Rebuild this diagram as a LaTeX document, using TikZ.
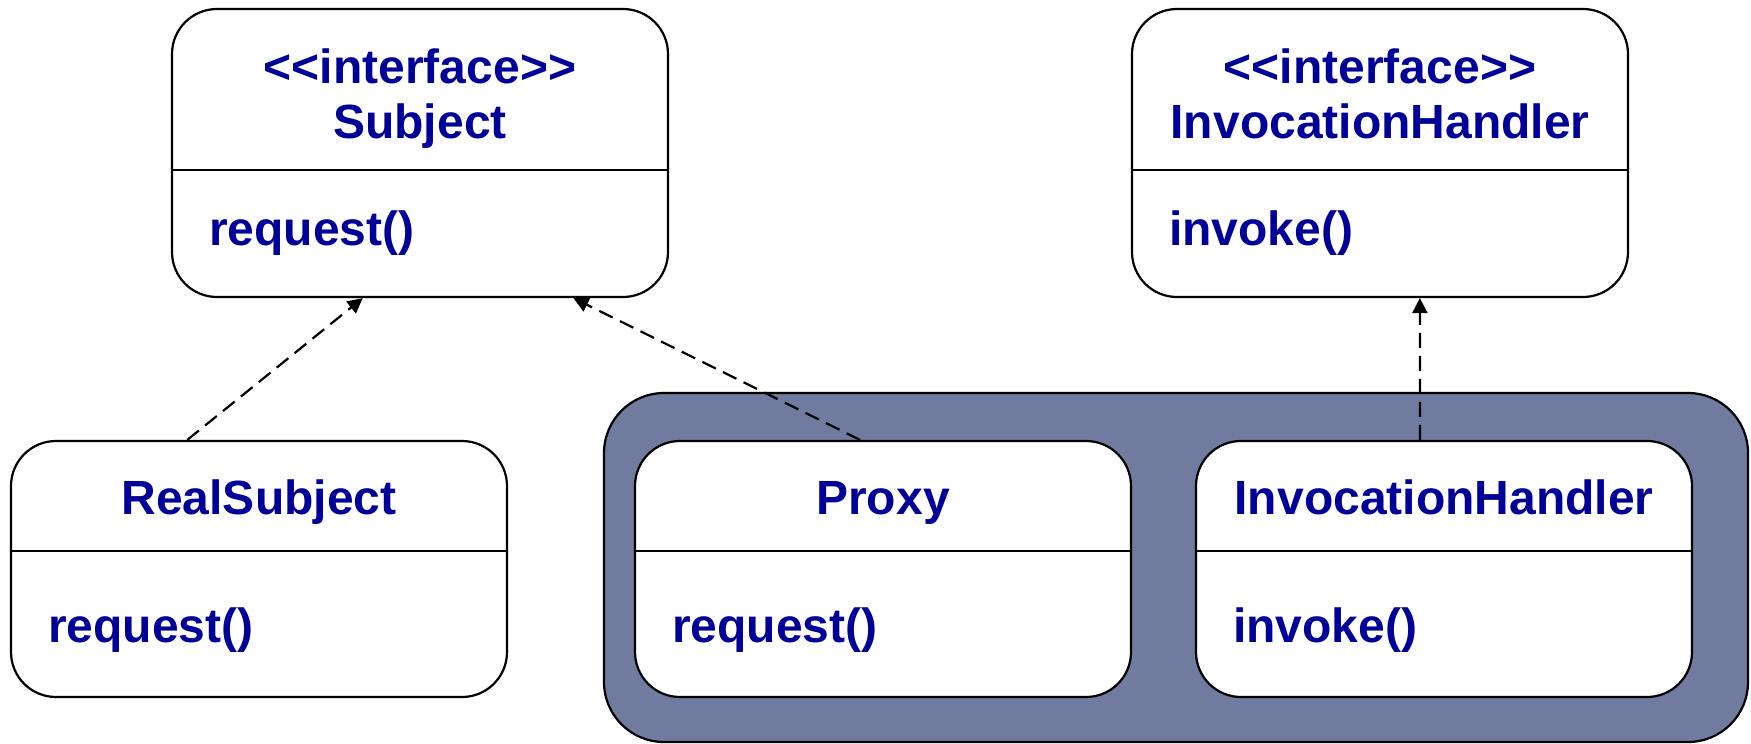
\documentclass[tikz,border=0pt]{standalone}
\usepackage{fontspec}
\setmainfont{Liberation Sans}
\usepackage{xcolor}
\definecolor{navy}{HTML}{000099}
\definecolor{slate}{HTML}{717B9F}
\usepackage{tikz}
\usetikzlibrary{arrows.meta,fit,calc}
\tikzset{
  every picture/.style={line width=1.1pt},
  classbox/.style={draw=black, rounded corners=22.5pt, fill=white, inner sep=0pt},
  group/.style={draw=black, rounded corners=30pt, fill=slate, inner sep=0pt},
  txt/.style={text=navy, font=\fontsize{24}{28}\selectfont\bfseries, inner sep=0pt, anchor=base},
  realize/.style={-{Triangle[length=7.5pt, width=7.5pt]}, draw=black, dash pattern=on 7.5pt off 4pt},
}
\newcommand{\stereo}{<\kern0pt<interface>\kern0pt>}

\begin{document}
\begin{tikzpicture}[x=0.5pt, y=-0.5pt]
  \useasboundingbox (0,0) rectangle (1751,744);
  % dynamic proxy part
  \node[group, fit={(604,393) (1748,742)}] (dynamic) {};
  \foreach \name/\xa/\ya/\yb/\yd/\ytl/\title/\ym/\meth in {
      subject/172/9/297/170/138/Subject/245/request(),
      ihiface/1132/9/297/170/138/InvocationHandler/245/invoke(),
      real/11/441/697/551/514/RealSubject/642/request(),
      proxy/635/441/697/551/514/Proxy/642/request(),
      handler/1196/441/697/551/514/InvocationHandler/642/invoke()} {
    \node[classbox, fit={(\xa,\ya) (\xa+496,\yb)}] (\name) {};
    \draw (\name.west |- 0,\yd) -- (\name.east |- 0,\yd);
    \node[txt] (\name-title) at (\xa+248,\ytl) {\title};
    \node[txt, anchor=base west] (\name-op) at (\xa+36,\ym) {\meth};
  }
  \node[txt] (subject-st) at (420,83) {\stereo};
  \node[txt] (ihiface-st) at (1380,83) {\stereo};
  % realizations
  \draw[realize] ($(real.north west)!.356!(real.north east)$) -- ($(subject.south west)!.385!(subject.south east)$);
  \draw[realize] ($(proxy.north west)!.454!(proxy.north east)$) -- ($(subject.south west)!.808!(subject.south east)$);
  \draw[realize] ($(handler.north west)!.452!(handler.north east)$) -- ($(ihiface.south west)!.58!(ihiface.south east)$);
\end{tikzpicture}
\end{document}
